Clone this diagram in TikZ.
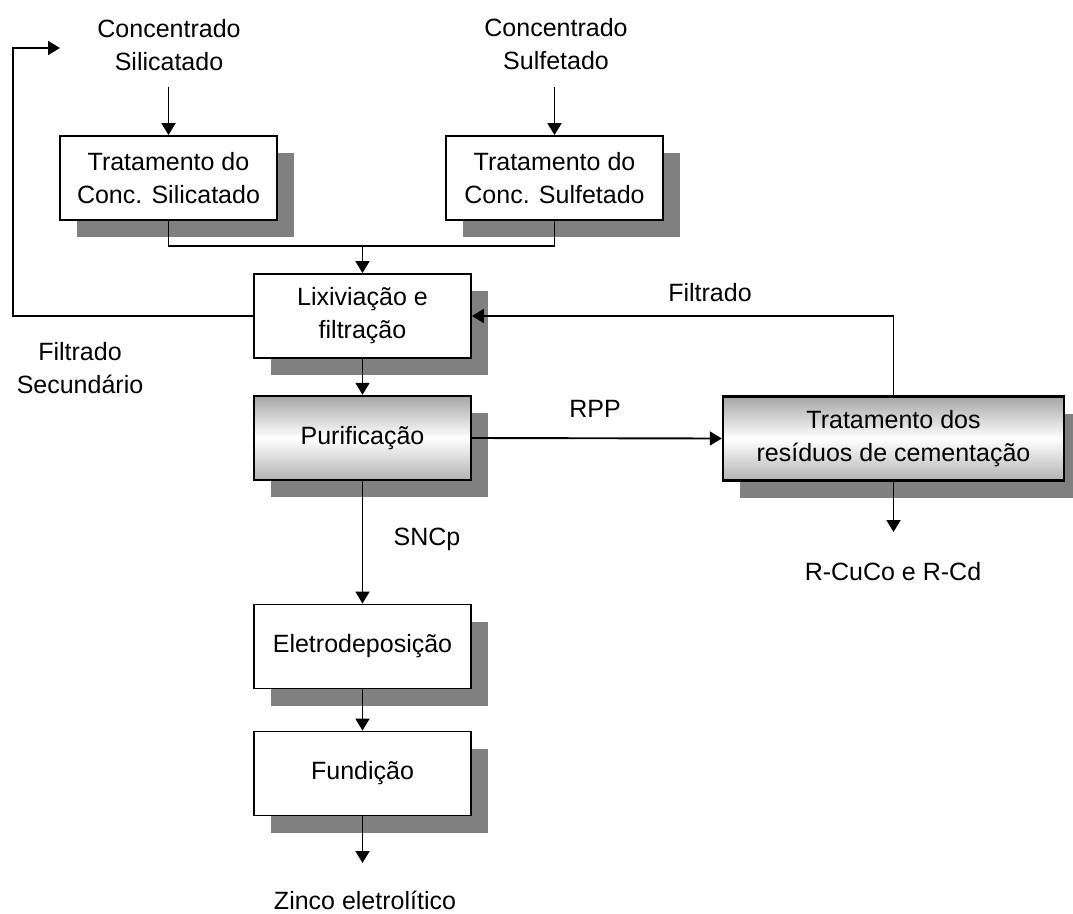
\documentclass[tikz,border=0pt]{standalone}
\usepackage{fontspec}
\setmainfont{Liberation Sans}
\usetikzlibrary{arrows.meta,shadows,calc}
\begin{document}
\begin{tikzpicture}[x=1pt,y=-1pt,
  font=\fontsize{25}{33}\selectfont,
  line width=1.9pt,
  boxbase/.style={draw=black, line width=1.9pt, minimum width=217pt, minimum height=84pt,
     align=center, inner sep=2pt,
     drop shadow={shadow xshift=17pt, shadow yshift=-17pt, opacity=1, fill=black!50}},
  plainbox/.style={boxbase, fill=white},
  gradbox/.style={boxbase, line width=2.4pt, top color=black!35, bottom color=black!30, middle color=white},
  lbl/.style={align=center, inner sep=0pt},
  arr/.style={-{Triangle[length=12pt,width=14pt]}}
]
\useasboundingbox (0,0) rectangle (1073,913);
% text labels
\node[lbl] (cs) at (169,45) {Concentrado\\Silicatado};
\node[lbl] (csu) at (556,44) {Concentrado\\Sulfetado};
\node[lbl] (fs) at (80,368) {Filtrado\\Secundário};
\node[lbl] (filt) at (710,293) {Filtrado};
\node[lbl] (rpp) at (595,409) {RPP};
\node[lbl] (sncp) at (427,539) {SNCp};
\node[lbl] (rcu) at (893,572) {R-CuCo e R-Cd};
\node[lbl] (zinc) at (365,900) {Zinco eletrolítico};
% boxes
\node[plainbox] (t1) at (168.5,178) {Tratamento do\\Conc. Silicatado};
\node[plainbox] (t2) at (554.5,178) {Tratamento do\\Conc. Sulfetado};
\node[plainbox] (lix) at (362.5,316) {Lixiviação e\\filtração};
\node[gradbox] (pur) at (362.5,438) {Purificação};
\node[gradbox, minimum width=341pt] (trr) at (893.5,438.5) {Tratamento dos\\resíduos de cementação};
\node[plainbox] (ele) at (362.5,646.5) {Eletrodeposição};
\node[plainbox] (fun) at (362.5,773.5) {Fundição};
% coordinates
\coordinate (j) at (362.5,246);
\coordinate (fbc) at (13,48);
\coordinate (fbend) at (60,48);
\coordinate (csa) at (t1.north |- 0,87);
\coordinate (csua) at (t2.north |- 0,87);
\coordinate (zt) at (fun.south |- 0,863);
\coordinate (rt) at (trr.south |- 0,532);
% connectors
\draw[arr] (csa) -- (t1.north);
\draw[arr] (csua) -- (t2.north);
\draw (t1.south) |- (j) -| (t2.south);
\draw[arr] (j) -- (lix.north);
\draw[arr] (lix.west) -| (fbc) -- (fbend);
\draw[arr] (trr.north) |- (lix.east);
\draw[arr] (lix.south) -- (pur.north);
\draw[arr] (pur.east) -- (trr.west);
\draw[arr] (pur.south) -- (ele.north);
\draw[arr] (ele.south) -- (fun.north);
\draw[arr] (fun.south) -- (zt);
\draw[arr] (trr.south) -- (rt);
\end{tikzpicture}
\end{document}
